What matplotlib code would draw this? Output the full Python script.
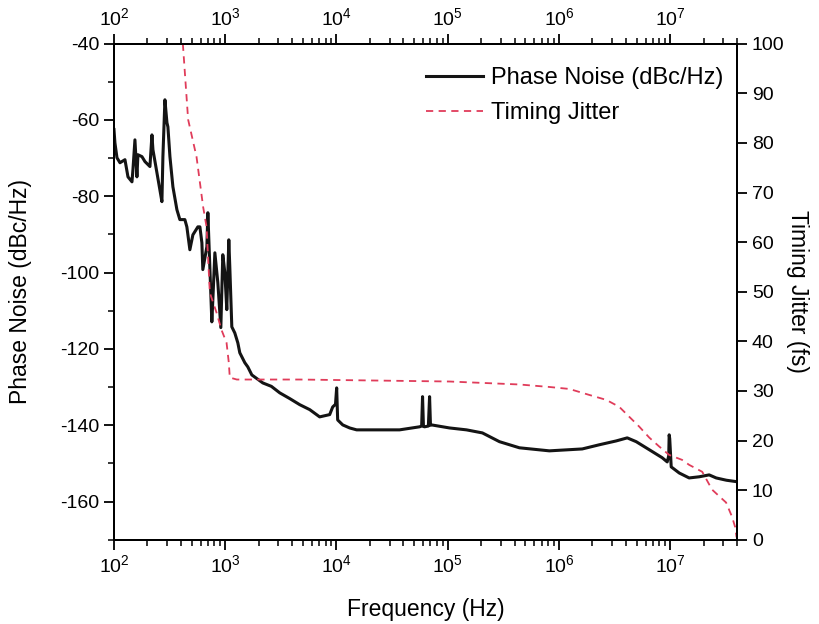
import numpy as np
import matplotlib.pyplot as plt
from matplotlib.ticker import LogLocator, MultipleLocator, NullFormatter

plt.rcParams['font.family'] = ['Liberation Sans', 'DejaVu Sans']
plt.rcParams['axes.unicode_minus'] = False

# phase noise trace (Hz, dBc/Hz)
pn_freq = [100, 102, 106.4, 113.2, 125.5, 133.6, 145.1, 148.1, 154.3, 160.8, 164.2,
           178.4, 189.9, 210.5, 219.4, 224.0, 243.2, 258.6, 269.7, 275.3, 287, 299.3,
           305.3, 318.4, 338.6, 367.8, 391, 433.6, 452, 481, 512, 567.6, 592, 617,
           629, 684, 698, 727, 758, 774, 807, 858, 913, 951, 992, 1033, 1077, 1099,
           1146, 1219, 1298, 1352, 1500, 1596, 1734, 2176, 2600, 3090, 3800, 4675,
           5750, 7060, 8690, 9250, 9800, 10040, 10250, 11380, 13140, 15180, 26000,
           36900, 55840, 58300, 59400, 60500, 61900, 67000, 68700, 70000, 71550,
           103800, 147500, 205000, 292000, 441000, 820000, 1.62e6, 2.31e6, 3.27e6,
           4.11e6, 4.95e6, 6.48e6, 8.47e6, 9.4e6, 9.7e6, 9.79e6, 9.9e6, 1.021e7,
           1.205e7, 1.48e7, 1.82e7, 2.24e7, 2.59e7, 3.2e7, 4.0e7]
pn_dbc = [-62.5, -66.0, -69.9, -71.2, -70.4, -74.9, -76.2, -73.0, -65.2, -74.9, -69.1,
          -69.6, -70.9, -72.2, -63.9, -67.8, -73.8, -78.3, -81.4, -69.6, -54.7, -60.7,
          -61.8, -69.6, -77.5, -83.5, -86.1, -86.1, -88.0, -94.0, -90.1, -88.0, -88.0, -92.2,
          -99.2, -93.2, -84.3, -98.4, -112.9, -107.1, -94.8, -102.6, -114.4, -95.3, -100.0,
          -109.7, -91.4, -98.4, -114.2, -115.8, -118.4, -121.0, -123.6, -124.7, -126.8,
          -128.9, -129.8, -131.5, -133.0, -134.6,
          -135.9, -137.8, -137.2, -135.2, -134.5, -130.2, -138.6, -139.9, -140.7, -141.2,
          -141.2, -141.2, -140.4, -140.2, -132.5, -140.3, -140.4, -140.2, -132.5, -140.0,
          -139.9, -140.7, -141.2, -142.0, -144.3, -145.9, -146.7, -146.2, -145.1, -144.1,
          -143.3, -144.3, -146.4, -148.5, -149.6, -148.0, -142.5, -143.5, -150.9,
          -152.5, -153.8, -153.5, -153.0, -153.8, -154.4, -154.8]

# integrated timing jitter (Hz, fs)
tj_freq = [416, 464, 552, 633, 679, 727, 835, 926, 1028, 1077, 1099, 1271, 4675,
           103800, 441000, 820000, 1.24e6, 1.87e6, 2.66e6, 3.48e6, 4.28e6, 5.27e6,
           6.48e6, 7.96e6, 9.79e6, 1.28e7, 1.48e7, 1.94e7, 2.38e7, 3.18e7, 3.6e7,
           3.83e7, 3.95e7]
tj_fs = [100, 84.7, 77.2, 67.1, 63.1, 49.8, 45.8, 42.3, 39.7, 35.7, 32.7, 32.3, 32.3,
         31.9, 31.3, 30.8, 30.4, 29.2, 28.2, 26.8, 24.8, 22.8, 20.6, 18.8, 17.1, 16.1,
         15.1, 13.7, 10.1, 7.5, 4.6, 2.6, 0.5]

fig = plt.figure(figsize=(8.2, 6.24), dpi=100)
ax = fig.add_axes([0.139, 0.135, 0.760, 0.795])
ax2 = ax.twinx()

l1, = ax.plot(pn_freq, pn_dbc, color='#141414', lw=2.2, label='Phase Noise (dBc/Hz)')
l2, = ax2.plot(tj_freq, tj_fs, color='#e03c5a', lw=1.3, ls=(0, (4, 3)),
               label='Timing Jitter')

ax.set_xscale('log')
ax.set_xlim(100, 4e7)
ax.set_ylim(-170, -40)
ax2.set_ylim(0, 100)

ax.xaxis.set_major_locator(LogLocator(base=10, numticks=12))
ax.xaxis.set_minor_locator(LogLocator(base=10, subs=np.arange(2, 10), numticks=12))
ax.xaxis.set_minor_formatter(NullFormatter())
ax.yaxis.set_minor_locator(MultipleLocator(10))
ax.set_yticks(np.arange(-160, -39, 20))
ax2.yaxis.set_major_locator(MultipleLocator(10))

ax.tick_params(axis='x', which='both', top=True, labeltop=True)
ax.tick_params(which='major', length=7, width=1.3, labelsize=14, direction='out')
ax.tick_params(which='minor', length=4, width=1.1, direction='out')
ax2.tick_params(which='major', length=7, width=1.3, labelsize=14, direction='out')
for a in (ax, ax2):
    for s in a.spines.values():
        s.set_linewidth(1.4)

ax.set_xlabel('Frequency (Hz)', fontsize=16.5, labelpad=16)
ax.set_ylabel('Phase Noise (dBc/Hz)', fontsize=16.5, labelpad=20)
ax2.set_ylabel('Timing Jitter (fs)', fontsize=16.5, rotation=270, labelpad=18)

ax2.legend(handles=[l1, l2], loc='upper right', bbox_to_anchor=(1.012, 0.995),
           frameon=False, fontsize=17, handlelength=2.4, labelspacing=0.55,
           handletextpad=0.35)

fig.savefig('out.png', dpi=100)
